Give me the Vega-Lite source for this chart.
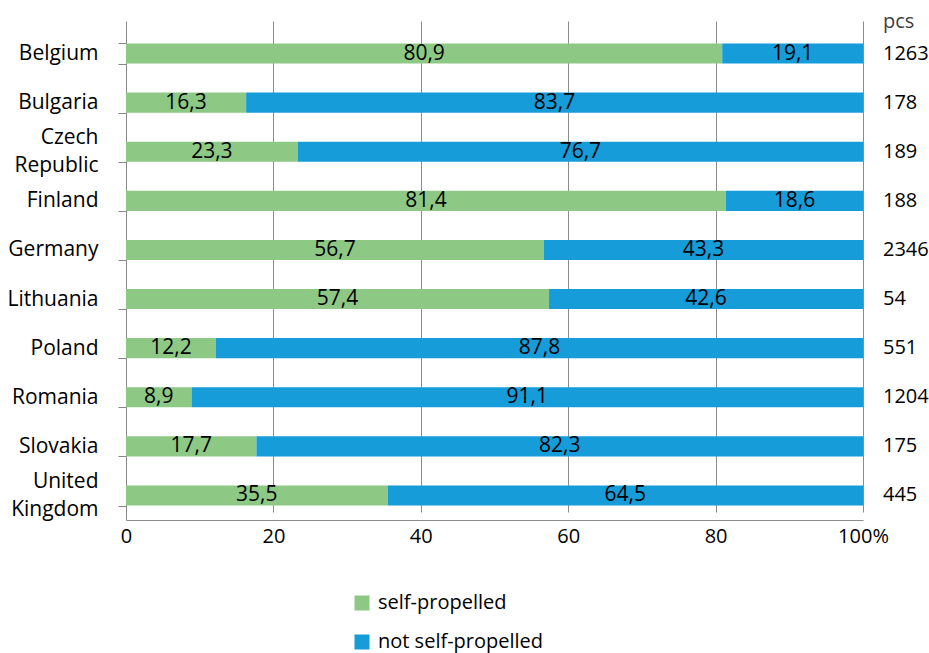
{
  "$schema": "https://vega.github.io/schema/vega-lite/v6.json",
  "width": 737,
  "height": 499,
  "autosize": {"type": "none"},
  "padding": {"left": 126, "top": 21, "right": 66, "bottom": 133},
  "background": "white",
  "config": {"font": "Open Sans", "view": {"stroke": null}},
  "data": {"values": [
    {"country": "Belgium", "type": "self-propelled", "value": 80.9, "pcs": 1263},
    {"country": "Belgium", "type": "not self-propelled", "value": 19.1, "pcs": 1263},
    {"country": "Bulgaria", "type": "self-propelled", "value": 16.3, "pcs": 178},
    {"country": "Bulgaria", "type": "not self-propelled", "value": 83.7, "pcs": 178},
    {"country": "Czech Republic", "type": "self-propelled", "value": 23.3, "pcs": 189},
    {"country": "Czech Republic", "type": "not self-propelled", "value": 76.7, "pcs": 189},
    {"country": "Finland", "type": "self-propelled", "value": 81.4, "pcs": 188},
    {"country": "Finland", "type": "not self-propelled", "value": 18.6, "pcs": 188},
    {"country": "Germany", "type": "self-propelled", "value": 56.7, "pcs": 2346},
    {"country": "Germany", "type": "not self-propelled", "value": 43.3, "pcs": 2346},
    {"country": "Lithuania", "type": "self-propelled", "value": 57.4, "pcs": 54},
    {"country": "Lithuania", "type": "not self-propelled", "value": 42.6, "pcs": 54},
    {"country": "Poland", "type": "self-propelled", "value": 12.2, "pcs": 551},
    {"country": "Poland", "type": "not self-propelled", "value": 87.8, "pcs": 551},
    {"country": "Romania", "type": "self-propelled", "value": 8.9, "pcs": 1204},
    {"country": "Romania", "type": "not self-propelled", "value": 91.1, "pcs": 1204},
    {"country": "Slovakia", "type": "self-propelled", "value": 17.7, "pcs": 175},
    {"country": "Slovakia", "type": "not self-propelled", "value": 82.3, "pcs": 175},
    {"country": "United Kingdom", "type": "self-propelled", "value": 35.5, "pcs": 445},
    {"country": "United Kingdom", "type": "not self-propelled", "value": 64.5, "pcs": 445}
  ]},
  "transform": [
    {"stack": "value", "groupby": ["country"], "sort": [{"field": "type", "order": "descending"}], "as": ["v0", "v1"]},
    {"calculate": "(datum.v0 + datum.v1) / 2", "as": "mid"},
    {"calculate": "replace(format(datum.value, '.1f'), '.', ',')", "as": "lbl"}
  ],
  "encoding": {
    "y": {
      "field": "country", "type": "nominal", "sort": null,
      "scale": {"range": [8, 499], "paddingInner": 0.59, "paddingOuter": 0.295},
      "axis": {"title": null, "domainColor": "#888888", "tickColor": "#888888", "tickBand": "extent", "tickSize": 8, "labelFontSize": 21, "labelColor": "black", "labelPadding": 20,
        "labelExpr": "datum.value ? split(datum.value, ' ') : ''",
        "labelOffset": {"condition": {"test": "datum.value && indexof(datum.value, ' ') >= 0", "value": -14}, "value": 0},
        "labelLineHeight": 28, "grid": false}
    }
  },
  "layer": [
    {
      "mark": {"type": "bar"},
      "encoding": {
        "x": {"field": "v0", "type": "quantitative", "scale": {"domain": [0, 100], "nice": false},
          "axis": {"title": null, "grid": true, "gridColor": "#8c8c8c", "domainColor": "#8c8c8c", "ticks": false, "labelFontSize": 20, "labelColor": "black", "labelPadding": 6, "values": [0, 20, 40, 60, 80, 100], "labelExpr": "datum.value == 100 ? '100%' : datum.label", "labelFlush": false}},
        "x2": {"field": "v1"},
        "color": {"field": "type", "type": "nominal",
          "scale": {"domain": ["self-propelled", "not self-propelled"], "range": ["#8DC985", "#169CD8"]},
          "legend": {"orient": "none", "legendX": 226, "legendY": 572, "direction": "vertical", "title": null, "symbolType": "square", "symbolSize": 225, "symbolStrokeWidth": 0, "symbolOpacity": 1, "labelFontSize": 20, "labelColor": "black", "labelLimit": 400, "rowPadding": 19, "labelOffset": 6}}
      }
    },
    {
      "mark": {"type": "text", "fontSize": 21, "color": "black"},
      "encoding": {
        "x": {"field": "mid", "type": "quantitative"},
        "text": {"field": "lbl"}
      }
    },
    {
      "transform": [{"filter": "datum.type == 'self-propelled'"}],
      "mark": {"type": "text", "align": "left", "dx": 20, "fontSize": 20, "color": "black"},
      "encoding": {
        "x": {"datum": 100, "type": "quantitative"},
        "text": {"field": "pcs"}
      }
    },
    {
      "transform": [{"filter": "datum.type == 'self-propelled' && datum.country == 'Belgium'"}],
      "mark": {"type": "text", "text": "pcs", "align": "left", "dx": 20, "dy": -32, "fontSize": 20, "color": "#404040"},
      "encoding": {
        "x": {"datum": 100, "type": "quantitative"}
      }
    }
  ]
}
